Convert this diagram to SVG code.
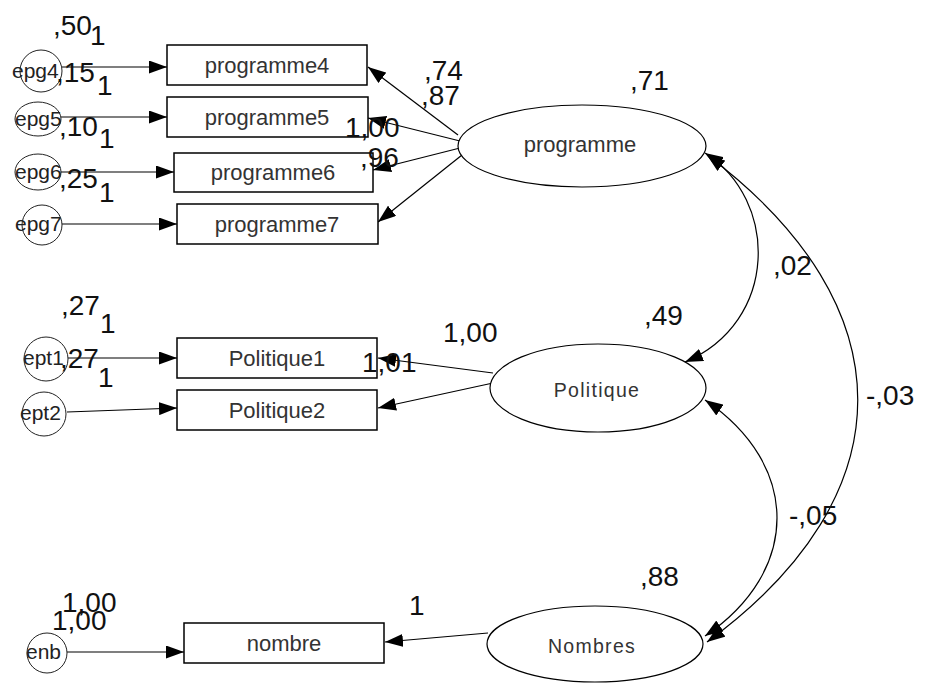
<svg xmlns="http://www.w3.org/2000/svg" width="930" height="685" viewBox="0 0 930 685">
<defs>
<marker id="arr" markerUnits="userSpaceOnUse" markerWidth="18" markerHeight="13" refX="18" refY="6.5" orient="auto-start-reverse" viewBox="0 0 18 13">
<path d="M0,0 L18,6.5 L0,13 z" fill="#000"/>
</marker>
<style>
.box{fill:#fff;stroke:#000;stroke-width:1.5}
.ell{fill:#fff;stroke:#000;stroke-width:1.2}
.err{fill:#fff;stroke:#222;stroke-width:1}
.lbl{font-family:"Liberation Sans",Arial,sans-serif;font-size:22px;fill:#333;text-anchor:middle}
.lat{font-family:"Liberation Sans",Arial,sans-serif;font-size:19.5px;fill:#333;text-anchor:middle;letter-spacing:1.3px}
.elab{font-family:"Liberation Sans",Arial,sans-serif;font-size:21px;fill:#222}
.num{font-family:"Liberation Sans",Arial,sans-serif;font-size:28px;fill:#111}
.con{fill:none;stroke:#000;stroke-width:1.2}
</style>
</defs>
<rect width="930" height="685" fill="#fff"/>

<g id="connectors">
<line class="con" x1="62" y1="67" x2="167" y2="67" marker-end="url(#arr)"/>
<line class="con" x1="61" y1="117" x2="167" y2="117" marker-end="url(#arr)"/>
<line class="con" x1="60" y1="172" x2="174" y2="172" marker-end="url(#arr)"/>
<line class="con" x1="62" y1="224" x2="177" y2="224" marker-end="url(#arr)"/>
<line class="con" x1="68" y1="358" x2="177" y2="358" marker-end="url(#arr)"/>
<line class="con" x1="67" y1="412" x2="177" y2="408" marker-end="url(#arr)"/>
<line class="con" x1="67" y1="652" x2="184" y2="652" marker-end="url(#arr)"/>
<line class="con" x1="458" y1="135" x2="368" y2="67" marker-end="url(#arr)"/>
<line class="con" x1="460" y1="141" x2="368" y2="118" marker-end="url(#arr)"/>
<line class="con" x1="460" y1="148" x2="373" y2="170" marker-end="url(#arr)"/>
<line class="con" x1="462" y1="155" x2="378" y2="222" marker-end="url(#arr)"/>
<line class="con" x1="493" y1="373" x2="378" y2="358" marker-end="url(#arr)"/>
<line class="con" x1="493" y1="383" x2="378" y2="408" marker-end="url(#arr)"/>
<line class="con" x1="488" y1="633" x2="385" y2="642" marker-end="url(#arr)"/>
<path class="con" d="M705,153 C779,200 779,322 685,362" marker-start="url(#arr)" marker-end="url(#arr)"/>
<path class="con" d="M705,400 C801,465 801,571 705,636" marker-start="url(#arr)" marker-end="url(#arr)"/>
<path class="con" d="M707,155 C908,306 908,495 707,642" marker-start="url(#arr)" marker-end="url(#arr)"/>
</g>

<g id="epg4"><circle class="err" cx="41" cy="71" r="21"/><text class="elab" x="12" y="78">epg4</text></g>
<g id="epg5"><ellipse class="err" cx="38" cy="119" rx="23" ry="17"/><text class="elab" x="15" y="126">epg5</text></g>
<g id="epg6"><ellipse class="err" cx="38" cy="172" rx="23" ry="18"/><text class="elab" x="15" y="179">epg6</text></g>
<g id="epg7"><circle class="err" cx="42" cy="225" r="20"/><text class="elab" x="15" y="231">epg7</text></g>
<g id="ept1"><circle class="err" cx="46" cy="359" r="22"/><text class="elab" x="23" y="365">ept1</text></g>
<g id="ept2"><circle class="err" cx="44" cy="414" r="22"/><text class="elab" x="20" y="420">ept2</text></g>
<g id="enb"><circle class="err" cx="47" cy="653" r="20"/><text class="elab" x="26" y="659">enb</text></g>

<g id="programme4"><rect class="box" x="167" y="45" width="200" height="40"/><text class="lbl" x="267" y="73">programme4</text></g>
<g id="programme5"><rect class="box" x="167" y="97" width="201" height="40"/><text class="lbl" x="267" y="125">programme5</text></g>
<g id="programme6"><rect class="box" x="174" y="153" width="199" height="39"/><text class="lbl" x="273" y="180">programme6</text></g>
<g id="programme7"><rect class="box" x="177" y="204" width="201" height="40"/><text class="lbl" x="277" y="232">programme7</text></g>
<g id="Politique1"><rect class="box" x="177" y="338" width="200" height="40"/><text class="lbl" x="277" y="366">Politique1</text></g>
<g id="Politique2"><rect class="box" x="177" y="390" width="200" height="40"/><text class="lbl" x="277" y="418">Politique2</text></g>
<g id="nombre"><rect class="box" x="184" y="623" width="200" height="40"/><text class="lbl" x="284" y="651">nombre</text></g>

<g id="programme"><ellipse class="ell" cx="582" cy="146" rx="124" ry="41"/><text class="lbl" x="580" y="152">programme</text></g>
<g id="Politique"><ellipse class="ell" cx="598" cy="388" rx="108" ry="44"/><text class="lat" x="597" y="397">Politique</text></g>
<g id="Nombres"><ellipse class="ell" cx="595" cy="644" rx="108" ry="38"/><text class="lat" x="592" y="653">Nombres</text></g>

<g id="estimates">
<text class="num" x="53" y="35">,50</text>
<text class="num" x="90" y="45">1</text>
<text class="num" x="56" y="82">,15</text>
<text class="num" x="97" y="95">1</text>
<text class="num" x="59" y="136">,10</text>
<text class="num" x="99" y="148">1</text>
<text class="num" x="59" y="188">,25</text>
<text class="num" x="99" y="202">1</text>
<text class="num" x="61" y="315">,27</text>
<text class="num" x="100" y="333">1</text>
<text class="num" x="60" y="368">,27</text>
<text class="num" x="98" y="387">1</text>
<text class="num" x="62" y="612">1,00</text>
<text class="num" x="52" y="630">1,00</text>
<text class="num" x="424" y="80">,74</text>
<text class="num" x="421" y="105">,87</text>
<text class="num" x="345" y="137">1,00</text>
<text class="num" x="360" y="167">,96</text>
<text class="num" x="443" y="342">1,00</text>
<text class="num" x="362" y="372">1,01</text>
<text class="num" x="409" y="615">1</text>
<text class="num" x="630" y="90">,71</text>
<text class="num" x="644" y="325">,49</text>
<text class="num" x="773" y="275">,02</text>
<text class="num" x="866" y="405">-,03</text>
<text class="num" x="789" y="525">-,05</text>
<text class="num" x="640" y="586">,88</text>
</g>
</svg>
